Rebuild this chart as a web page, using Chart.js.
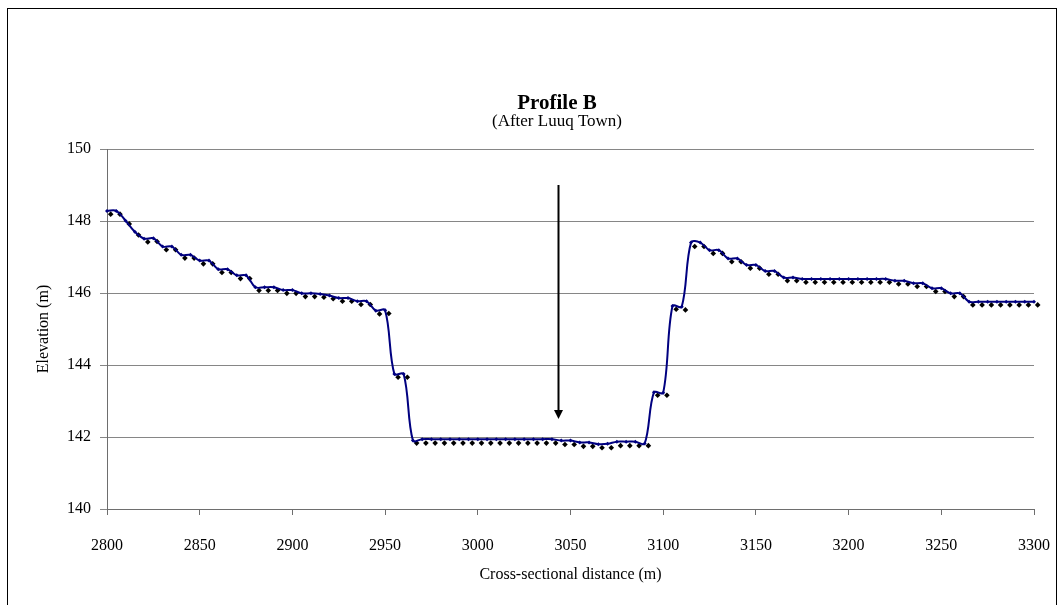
<!DOCTYPE html>
<html>
<head>
<meta charset="utf-8">
<title>Profile B</title>
<script src="https://cdn.jsdelivr.net/npm/chart.js@4.4.1/dist/chart.umd.min.js"></script>
<style>
    html, body { margin: 0; padding: 0; background: #ffffff; }
    #wrap { width: 1063px; height: 605px; }
</style>
</head>
<body>
<div id="wrap"><canvas id="profileChart" width="1063" height="605"></canvas></div>
<script>
// Profile B - cross section after Luuq Town

// surveyed line (blue)
const distances = [
    2800, 2805, 2810, 2815, 2820, 2825, 2830, 2835, 2840, 2845,
    2850, 2855, 2860, 2865, 2870, 2875, 2880, 2885, 2890, 2895,
    2900, 2905, 2910, 2915, 2920, 2925, 2930, 2935, 2940, 2945,
    2950, 2955, 2960, 2965, 2970, 2975, 2980, 2985, 2990, 2995,
    3000, 3005, 3010, 3015, 3020, 3025, 3030, 3035, 3040, 3045,
    3050, 3055, 3060, 3065, 3070, 3075, 3080, 3085, 3090, 3095,
    3100, 3105, 3110, 3115, 3120, 3125, 3130, 3135, 3140, 3145,
    3150, 3155, 3160, 3165, 3170, 3175, 3180, 3185, 3190, 3195,
    3200, 3205, 3210, 3215, 3220, 3225, 3230, 3235, 3240, 3245,
    3250, 3255, 3260, 3265, 3270, 3275, 3280, 3285, 3290, 3295,
    3300
];
const elevations = [
    148.28, 148.28, 148.01, 147.70, 147.51, 147.52, 147.29, 147.29, 147.06, 147.06,
    146.90, 146.90, 146.66, 146.66, 146.49, 146.49, 146.16, 146.16, 146.16, 146.08,
    146.08, 145.99, 145.99, 145.97, 145.93, 145.86, 145.86, 145.77, 145.77, 145.51,
    145.52, 143.75, 143.75, 141.90, 141.94, 141.94, 141.94, 141.94, 141.94, 141.94,
    141.94, 141.94, 141.94, 141.94, 141.94, 141.94, 141.94, 141.94, 141.94, 141.90,
    141.90, 141.85, 141.85, 141.80, 141.81, 141.87, 141.87, 141.87, 141.82, 143.24,
    143.23, 145.64, 145.62, 147.40, 147.40, 147.19, 147.19, 146.96, 146.96, 146.78,
    146.78, 146.61, 146.61, 146.43, 146.43, 146.39, 146.39, 146.39, 146.39, 146.39,
    146.39, 146.39, 146.39, 146.39, 146.39, 146.34, 146.34, 146.27, 146.27, 146.13,
    146.13, 145.99, 145.99, 145.76, 145.76, 145.76, 145.76, 145.76, 145.76, 145.76,
    145.76
];

// measured points (black diamonds)
const measuredDistances = [
    2802, 2807, 2812, 2817, 2822, 2827, 2832, 2837, 2842, 2847,
    2852, 2857, 2862, 2867, 2872, 2877, 2882, 2887, 2892, 2897,
    2902, 2907, 2912, 2917, 2922, 2927, 2932, 2937, 2942, 2947,
    2952, 2957, 2962, 2967, 2972, 2977, 2982, 2987, 2992, 2997,
    3002, 3007, 3012, 3017, 3022, 3027, 3032, 3037, 3042, 3047,
    3052, 3057, 3062, 3067, 3072, 3077, 3082, 3087, 3092, 3097,
    3102, 3107, 3112, 3117, 3122, 3127, 3132, 3137, 3142, 3147,
    3152, 3157, 3162, 3167, 3172, 3177, 3182, 3187, 3192, 3197,
    3202, 3207, 3212, 3217, 3222, 3227, 3232, 3237, 3242, 3247,
    3252, 3257, 3262, 3267, 3272, 3277, 3282, 3287, 3292, 3297,
    3302
];
const measuredElevations = [
    148.19, 148.19, 147.92, 147.61, 147.42, 147.43, 147.20, 147.20, 146.97, 146.97,
    146.81, 146.81, 146.57, 146.57, 146.40, 146.40, 146.07, 146.07, 146.07, 145.99,
    145.99, 145.90, 145.90, 145.88, 145.84, 145.77, 145.77, 145.68, 145.68, 145.42,
    145.43, 143.66, 143.66, 141.83, 141.83, 141.83, 141.83, 141.83, 141.83, 141.83,
    141.83, 141.83, 141.83, 141.83, 141.83, 141.83, 141.83, 141.83, 141.83, 141.79,
    141.79, 141.74, 141.74, 141.70, 141.70, 141.76, 141.76, 141.76, 141.76, 143.16,
    143.16, 145.55, 145.53, 147.29, 147.29, 147.10, 147.10, 146.87, 146.87, 146.69,
    146.69, 146.52, 146.52, 146.34, 146.34, 146.30, 146.30, 146.30, 146.30, 146.30,
    146.30, 146.30, 146.30, 146.30, 146.30, 146.25, 146.25, 146.18, 146.18, 146.04,
    146.04, 145.90, 145.90, 145.67, 145.67, 145.67, 145.67, 145.67, 145.67, 145.67,
    145.67
];

const xTicks = [2800, 2850, 2900, 2950, 3000, 3050, 3100, 3150, 3200, 3250, 3300];
const yTicks = [140, 142, 144, 146, 148, 150];

// arrow marking the channel (data units)
const arrowX = 3043;
const arrowTop = 149.0;
const arrowTip = 142.5;

const serif = '"Liberation Serif", "Times New Roman", serif';

// marco, títulos y flecha
const decorPlugin = {
    id: 'decor',
    afterDraw(chart) {
        const ctx = chart.ctx;
        const xs = chart.scales.x;
        const ys = chart.scales.y;
        ctx.save();

        // flecha
        const ax = Math.round(xs.getPixelForValue(arrowX)) + 0.5;
        const ay0 = ys.getPixelForValue(arrowTop);
        const ay1 = ys.getPixelForValue(arrowTip);
        ctx.strokeStyle = '#000000';
        ctx.fillStyle = '#000000';
        ctx.lineWidth = 2;
        ctx.beginPath();
        ctx.moveTo(ax, ay0);
        ctx.lineTo(ax, ay1 - 6);
        ctx.stroke();
        ctx.beginPath();
        ctx.moveTo(ax - 4.5, ay1 - 9);
        ctx.lineTo(ax + 4.5, ay1 - 9);
        ctx.lineTo(ax, ay1);
        ctx.closePath();
        ctx.fill();

        // marco
        ctx.lineWidth = 1;
        ctx.strokeStyle = '#000000';
        ctx.strokeRect(7.5, 8.5, 1049, 700);

        // títulos
        ctx.textAlign = 'center';
        ctx.textBaseline = 'middle';
        ctx.fillStyle = '#000000';
        ctx.font = 'bold 21px ' + serif;
        ctx.fillText('Profile B', 557, 104);
        ctx.font = '17px ' + serif;
        ctx.fillText('(After Luuq Town)', 557, 122);
        ctx.restore();
    }
};

document.addEventListener('DOMContentLoaded', function() {
    const ctx = document.getElementById('profileChart');
    new Chart(ctx, {
        type: 'line',
        data: {
            datasets: [{
                label: 'Profile',
                data: distances.map((d, i) => ({ x: d, y: elevations[i] })),
                borderColor: '#000080',
                backgroundColor: '#000080',
                borderWidth: 2,
                tension: 0.35,
                pointStyle: 'rectRot',
                pointRadius: 2,
                pointBorderWidth: 0,
                pointBackgroundColor: '#000080',
                clip: false,
                order: 1
            }, {
                label: 'Measured',
                data: measuredDistances.map((d, i) => ({ x: d, y: measuredElevations[i] })),
                showLine: false,
                pointStyle: 'rectRot',
                pointRadius: 2.8,
                pointBorderWidth: 0,
                pointBackgroundColor: '#000000',
                backgroundColor: '#000000',
                borderColor: '#000000',
                clip: false,
                order: 2
            }]
        },
        options: {
            responsive: false,
            animation: false,
            events: [],
            layout: {
                padding: { left: 7, top: 149, right: 29, bottom: 10 }
            },
            plugins: {
                legend: { display: false },
                tooltip: { enabled: false }
            },
            scales: {
                x: {
                    type: 'linear',
                    min: 2800,
                    max: 3300,
                    afterBuildTicks: function(scale) {
                        scale.ticks = xTicks.map(v => ({ value: v }));
                    },
                    afterFit: function(scale) {
                        scale.height = 86;
                        scale.paddingLeft = 0;
                        scale.paddingRight = 0;
                    },
                    grid: {
                        drawOnChartArea: false,
                        drawTicks: true,
                        tickLength: 6,
                        color: '#6e6e6e'
                    },
                    border: { color: '#6e6e6e', width: 1 },
                    ticks: {
                        color: '#000000',
                        padding: 21,
                        maxRotation: 0,
                        font: { family: serif, size: 16 },
                        callback: function(value) {
                            return String(value);
                        }
                    },
                    title: {
                        display: true,
                        text: 'Cross-sectional distance (m)',
                        color: '#000000',
                        padding: { top: 0, bottom: 11 },
                        font: { family: serif, size: 16 }
                    }
                },
                y: {
                    min: 140,
                    max: 150,
                    afterBuildTicks: function(scale) {
                        scale.ticks = yTicks.map(v => ({ value: v }));
                    },
                    afterFit: function(scale) {
                        scale.width = 100;
                    },
                    grid: {
                        color: '#868686',
                        lineWidth: 1,
                        tickLength: 7
                    },
                    border: { color: '#6e6e6e', width: 1 },
                    ticks: {
                        color: '#000000',
                        padding: 9,
                        font: { family: serif, size: 16 }
                    },
                    title: {
                        display: true,
                        text: 'Elevation (m)',
                        color: '#000000',
                        padding: { top: 27, bottom: 0 },
                        font: { family: serif, size: 16 }
                    }
                }
            }
        },
        plugins: [decorPlugin]
    });
});
</script>
</body>
</html>
